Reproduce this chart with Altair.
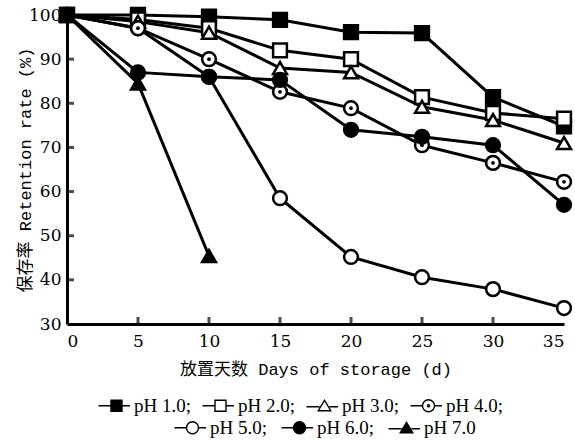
import altair as alt
import pandas as pd

days = [0, 5, 10, 15, 20, 25, 30, 35]
series_names = ["pH 1.0", "pH 2.0", "pH 3.0", "pH 4.0", "pH 5.0", "pH 6.0", "pH 7.0"]
ph1 = [100, 100, 99.6, 98.9, 96.1, 95.9, 81.4, 74.8]
ph2 = [100, 99, 97, 92, 90, 81.4, 77.8, 76.5]
ph3 = [100, 98.5, 96, 88, 87, 79.2, 76.2, 71]
ph4 = [100, 97, 90, 82.6, 78.9, 70.5, 66.5, 62.2]
ph5 = [100, 97, 86, 58.5, 45.2, 40.6, 37.9, 33.6]
ph6 = [100, 87, 86, 85.3, 74, 72.4, 70.5, 57]
ph7 = [100, 84.5, 45.4]
x_ticks = [5, 10, 15, 20, 25, 30]
y_ticks = [40, 50, 60, 70, 80, 90]

shapes = ["square", "square", "triangle-up", "circle", "circle", "circle", "triangle-up"]
fills = ["black", "white", "white", "white", "white", "black", "black"]

all_series = [ph1, ph2, ph3, ph4, ph5, ph6, ph7]
rows = []
for name, vals, shp, fc in zip(series_names, all_series, shapes, fills):
    for d, v in zip(days, vals):
        rows.append({"series": name, "day": d, "rate": v, "shp": shp, "fc": fc})
df = pd.DataFrame(rows)

# legend glyphs: line - marker - line (unit coordinates)
L = "M-3.6,0H-1.2M1.2,0H2.7"
sq = L + "M-1.1,-1.1H1.1V1.1H-1.1Z"
circ = L + "M-1.2,0A1.2,1.2 0 1,0 1.2,0A1.2,1.2 0 1,0 -1.2,0Z"
circdot = circ + "M-0.2,0A0.2,0.2 0 1,0 0.2,0A0.2,0.2 0 1,0 -0.2,0Z"
tri = "M-3.6,0.2H-1.0M1.0,0.2H2.7M0,-1.1L1.25,1.0H-1.25Z"
legend_paths = [sq, sq, tri, circdot, circ, circ, tri]

xscale = alt.Scale(domain=[0, 35], nice=False)
yscale = alt.Scale(domain=[30, 100], nice=False, zero=False)
xtitle = "放置天数 Days of storage (d)"
ytitle = "保存率 Retention rate (%)"

X = alt.X("day:Q", scale=xscale, title=xtitle,
          axis=alt.Axis(values=[0, 5, 10, 15, 20, 25, 30, 35], format="d"))
Y = alt.Y("rate:Q", scale=yscale, title=ytitle,
          axis=alt.Axis(values=[30, 40, 50, 60, 70, 80, 90, 100], format="d"))

lines = alt.Chart(df).mark_line(color="black", strokeWidth=3, clip=False).encode(
    x=X, y=Y, detail="series:N"
)

points = alt.Chart(df).mark_point(filled=True, stroke="black", strokeWidth=2.5,
                                  size=190, opacity=1, clip=False).encode(
    x=X, y=Y,
    shape=alt.Shape("shp:N", scale=None),
    fill=alt.Fill("fc:N", scale=None),
)

dots = alt.Chart(df).transform_filter(alt.datum.series == "pH 4.0").mark_point(
    filled=True, color="black", size=14, opacity=1, clip=False
).encode(x=X, y=Y)


def legend_layer(idx, lx, ly, colpad):
    dom = [series_names[i] for i in idx]
    paths = [legend_paths[i] for i in idx]
    fl = [fills[i] for i in idx]
    leg = alt.Legend(title=None, orient="none", legendX=lx, legendY=ly,
                     direction="horizontal", columns=len(idx),
                     symbolSize=100, symbolOpacity=1,
                     symbolStrokeColor="black", symbolStrokeWidth=1.4,
                     labelFont="Liberation Serif", labelFontSize=19,
                     labelColor="black", labelOffset=8,
                     columnPadding=colpad, padding=0, labelLimit=200,
                     labelExpr="datum.label == 'pH 7.0' ? datum.label : datum.label + ';'")
    return alt.Chart(df).transform_filter(alt.datum.day < 0).mark_point(
        filled=True, strokeWidth=1.4
    ).encode(
        x=X, y=Y,
        shape=alt.Shape("series:N", scale=alt.Scale(domain=dom, range=paths), legend=leg),
        fill=alt.Fill("series:N", scale=alt.Scale(domain=dom, range=fl), legend=leg),
        stroke=alt.Stroke("series:N", scale=alt.Scale(domain=dom, range=["black"] * len(idx)),
                          legend=leg),
    )


leg1 = legend_layer([0, 1, 2, 3], 40, 381, 8)
leg2 = legend_layer([4, 5, 6], 116, 403, 11)

xt = pd.DataFrame({"day": x_ticks})
yt = pd.DataFrame({"rate": y_ticks})
xtick_layer = alt.Chart(xt).mark_tick(orient="vertical", color="black", thickness=3,
                                      size=7, clip=False).encode(
    x=X, y=alt.value(309 - 3.5)
)
ytick_layer = alt.Chart(yt).mark_tick(orient="horizontal", color="black", thickness=3,
                                      size=7, clip=False).encode(
    y=Y, x=alt.value(3.5)
)

chart = alt.layer(lines, points, dots, xtick_layer, ytick_layer, leg1, leg2).resolve_scale(
    shape="independent", fill="independent", stroke="independent"
).properties(
    width=497, height=309,
    autosize=alt.AutoSizeParams(type="none"),
    padding={"left": 67, "top": 15, "right": 11, "bottom": 120},
).configure_view(stroke=None).configure_axis(
    domainColor="black", domainWidth=3, ticks=False, grid=False,
    labelFont="DejaVu Serif", labelFontSize=17, labelColor="black",
    titleFont="Liberation Mono, Noto Sans CJK SC", titleFontSize=17,
    titleFontWeight="normal", titleColor="black",
).configure_axisX(labelPadding=9, titlePadding=12).configure_axisY(
    labelPadding=6, titlePadding=-6
)

chart.save("out.html", embed_options={"renderer": "svg", "actions": False})
